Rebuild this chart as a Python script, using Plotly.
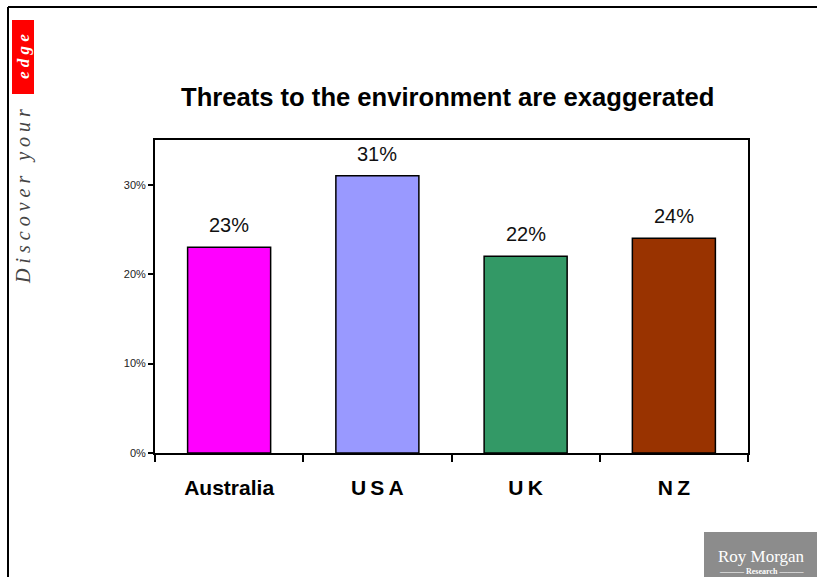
import plotly.graph_objects as go

countries = ["Australia", "USA", "UK", "NZ"]
tick_text = ["Australia", "U\u2009S\u2009A", "U\u2009K", "N\u2009Z"]
values = [23, 31, 22, 24]
colors = ["#FF00FF", "#9999FF", "#339966", "#993300"]
y_ticks = [0, 10, 20, 30]

W, H = 817, 577
L, R, T, B = 155, 748, 140, 453

def px(x):
    return (x - L) / (R - L)

def py(y):
    return (B - y) / (B - T)

fig = go.Figure()
fig.add_trace(go.Bar(
    x=countries, y=values,
    marker=dict(color=colors, line=dict(color="black", width=1.5)),
    cliponaxis=False,
    width=0.56,
))
for c, v in zip(countries, values):
    fig.add_annotation(x=c, y=v, text=f"{v}%", showarrow=False, yanchor="bottom",
                       yshift=9, xanchor="center",
                       font=dict(family="Arial, Liberation Sans", size=20, color="#111"))

fig.update_layout(
    width=W, height=H,
    margin=dict(l=L, r=W - R, t=T, b=H - B),
    paper_bgcolor="white", plot_bgcolor="white",
    showlegend=False,
    title=dict(text="<b>Threats to the environment are exaggerated</b>",
               font=dict(family="Arial, Liberation Sans", size=25.6, color="black"),
               x=0.548, xanchor="center", y=1 - 97 / H, yanchor="middle"),
    xaxis=dict(tickmode="array", tickvals=countries, ticktext=tick_text,
               tickson="boundaries", ticks="outside", ticklen=7, tickwidth=2,
               tickcolor="black", showline=True, linecolor="black", linewidth=2,
               mirror=True, showgrid=False,
               tickfont=dict(family="Arial, Liberation Sans", size=21, color="black", weight="bold"),
               ticklabelstandoff=15),
    yaxis=dict(range=[0, 35], tickmode="array", tickvals=y_ticks,
               ticktext=[f"{t}%" for t in y_ticks],
               ticks="outside", ticklen=5, tickwidth=2, tickcolor="black",
               showline=True, linecolor="black", linewidth=2, mirror=True,
               showgrid=False, zeroline=False,
               tickfont=dict(family="Arial, Liberation Sans", size=11, color="#222")),
)

# outer frame
fig.add_shape(type="line", xref="paper", yref="paper", x0=px(8), x1=px(8), y0=py(577), y1=py(7),
              line=dict(color="black", width=2))
fig.add_shape(type="line", xref="paper", yref="paper", x0=px(8), x1=px(817), y0=py(7), y1=py(7),
              line=dict(color="black", width=2))
# red box
fig.add_shape(type="rect", xref="paper", yref="paper", x0=px(12), x1=px(34), y0=py(94), y1=py(20),
              fillcolor="#FF0000", line=dict(width=0))
fig.add_annotation(xref="paper", yref="paper", x=px(23), y=py(57), text="<i><b>e d g e</b></i>",
                   textangle=-90, showarrow=False, xanchor="center", yanchor="middle",
                   font=dict(family="Liberation Serif, Times New Roman", size=17, color="white"))
fig.add_annotation(xref="paper", yref="paper", x=px(23), y=py(197),
                   text="<i>D i s c o v e r&nbsp;&nbsp; y o u r</i>",
                   textangle=-90, showarrow=False, xanchor="center", yanchor="middle",
                   font=dict(family="Liberation Serif, Times New Roman", size=20, color="#444"))
# logo
fig.add_shape(type="rect", xref="paper", yref="paper", x0=px(704), x1=px(817), y0=py(577), y1=py(532),
              fillcolor="#8C8C8C", line=dict(width=0))
fig.add_annotation(xref="paper", yref="paper", x=px(761), y=py(556), text="Roy Morgan",
                   showarrow=False, xanchor="center", yanchor="middle",
                   font=dict(family="Liberation Serif, Times New Roman", size=17, color="white"))
fig.add_annotation(xref="paper", yref="paper", x=px(761), y=py(571), text="<b>——— Research ———</b>",
                   showarrow=False, xanchor="center", yanchor="middle",
                   font=dict(family="Liberation Serif, Times New Roman", size=8, color="white"))

fig.write_html("out.html")
